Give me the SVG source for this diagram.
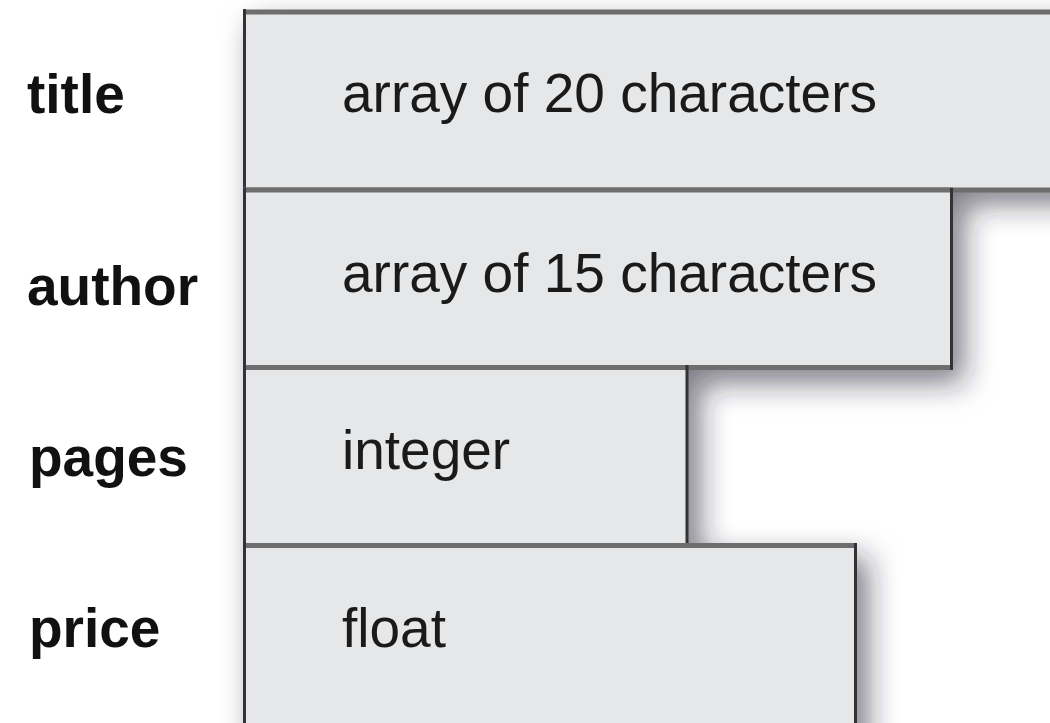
<svg xmlns="http://www.w3.org/2000/svg" width="1050" height="723" viewBox="0 0 1050 723">
  <style>
    .box { fill: #e6e7e8; }
    .hb { stroke: #6e6e6e; stroke-width: 5; fill: none; }
    .vb { stroke: #333333; stroke-width: 3; fill: none; }
    .lbl { font-family: "Liberation Sans", Arial, sans-serif; font-weight: bold; font-size: 55px; fill: #111111; }
    .val { font-family: "Liberation Sans", Arial, sans-serif; font-size: 55px; fill: #1a1a1a; }
  </style>
  <defs>
    <filter id="shadow" x="-20%" y="-20%" width="150%" height="150%">
      <feGaussianBlur in="SourceAlpha" stdDeviation="15"/>
      <feOffset dx="11" dy="14" result="b"/>
      <feFlood flood-color="#202030" flood-opacity="0.58"/>
      <feComposite in2="b" operator="in"/>
    </filter>
  </defs>
  <rect width="1050" height="723" fill="#ffffff"/>

  <g id="shadows" filter="url(#shadow)">
    <rect x="243" y="10" width="840" height="180" fill="#000"/>
    <rect x="243" y="188" width="710" height="181" fill="#000"/>
    <rect x="243" y="365" width="446" height="182" fill="#000"/>
    <rect x="243" y="543" width="614" height="220" fill="#000"/>
  </g>

  <g id="label-title"><text class="lbl" x="27" y="113">title</text></g>
  <g id="label-author"><text class="lbl" x="27" y="305">author</text></g>
  <g id="label-pages"><text class="lbl" x="29" y="476">pages</text></g>
  <g id="label-price"><text class="lbl" x="29" y="647">price</text></g>

  <g id="node-title">
    <rect class="box" x="244" y="12" width="830" height="178"/>
    <path class="hb" d="M243 12H1060M243 190H1060"/>
    <path class="vb" d="M244.5 9V192"/>
    <text class="val" x="342" y="112">array of 20 characters</text>
  </g>
  <g id="node-author">
    <rect class="box" x="244" y="190" width="707.5" height="177.5"/>
    <path class="hb" d="M243 190H953M243 367.5H953"/>
    <path class="vb" d="M244.5 188V370M951.5 188V370"/>
    <text class="val" x="342" y="292">array of 15 characters</text>
  </g>
  <g id="node-pages">
    <rect class="box" x="244" y="367.5" width="443" height="178"/>
    <path class="hb" d="M243 367.5H689M243 545.5H689"/>
    <path class="vb" d="M244.5 365V548M687 365V548"/>
    <text class="val" x="342" y="469">integer</text>
  </g>
  <g id="node-price">
    <rect class="box" x="244" y="545.5" width="611.5" height="200"/>
    <path class="hb" d="M243 545.5H857M243 745H857"/>
    <path class="vb" d="M244.5 543V750M855.5 543V750"/>
    <text class="val" x="342" y="647">float</text>
  </g>
  <g id="connectors"/>
</svg>
